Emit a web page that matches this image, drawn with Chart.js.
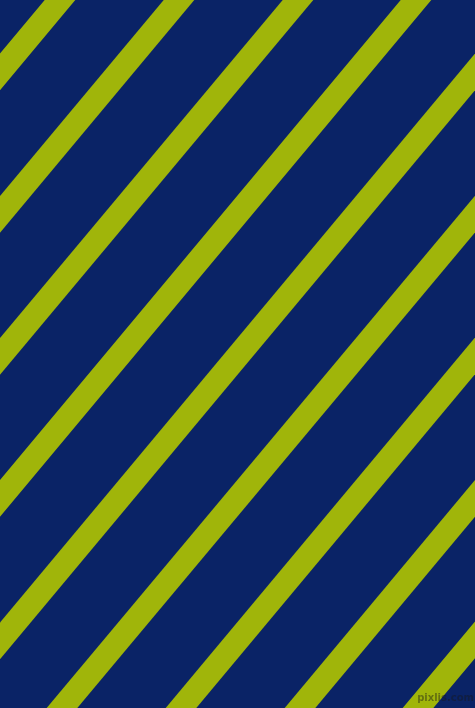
<!DOCTYPE html>
<html>
<head>
<meta charset="utf-8">
<script src="https://cdn.jsdelivr.net/npm/chart.js@4"></script>
<style>
  html, body { margin: 0; padding: 0; background: #0a2366; overflow: hidden; }
  #wrap { position: relative; width: 475px; height: 708px; }
  #mark { position: absolute; right: 1px; bottom: 5px; font: bold 10px "DejaVu Sans", sans-serif; line-height: 10px; color: rgba(25,25,25,0.45); }
</style>
</head>
<body>
<div id="wrap">
  <canvas id="chart" width="475" height="708"></canvas>
  <div id="mark">pixlis.com</div>
</div>
<script>
// stripe centre x where each stripe meets the top edge (y = 0) and the bottom edge (y = 708)
const topX = [60, 179, 298, 416, 535, 654, 772, 891, 1010];
const bottomX = [-531, -412, -294, -175, -56, 62, 181, 300, 418];
const edgeY = [0, 708];

const stripeColor = "#a0b50a";

const datasets = topX.map((tx, i) => ({
  data: [{ x: tx, y: edgeY[0] }, { x: bottomX[i], y: edgeY[1] }],
  borderColor: stripeColor,
  borderWidth: 23.5,
  borderCapStyle: "square",
  pointRadius: 0,
  showLine: true,
  fill: false
}));

new Chart(document.getElementById("chart"), {
  type: "scatter",
  data: { datasets },
  options: {
    responsive: false,
    animation: false,
    layout: { padding: 0 },
    scales: {
      x: { type: "linear", display: false, min: 0, max: 475 },
      y: { type: "linear", display: false, min: 0, max: 708, reverse: true }
    },
    plugins: { legend: { display: false }, tooltip: { enabled: false } }
  }
});
</script>
</body>
</html>
